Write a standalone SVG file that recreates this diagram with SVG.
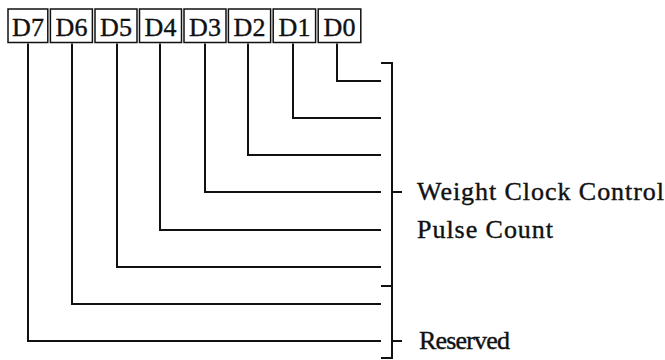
<svg xmlns="http://www.w3.org/2000/svg" width="665" height="360" viewBox="0 0 665 360">
<style>
.box{fill:#fff;stroke:#111;stroke-width:1.5}
.bt{font-size:26px;fill:#111;stroke:#111;stroke-width:0.4;text-anchor:middle}
.lbl{font-size:26px;fill:#111;stroke:#111;stroke-width:0.4}
.ln{fill:none;stroke:#111;stroke-width:2}
</style>
<rect width="665" height="360" fill="#fff"/>
<g font-family="Liberation Serif, DejaVu Serif, serif">
<g id="D7"><rect class="box" x="8" y="9" width="39.8" height="33.5"/><text class="bt" x="28" y="35.5">D7</text></g>
<g id="D6"><rect class="box" x="50.4" y="9" width="42" height="33.5"/><text class="bt" x="71.5" y="35.5">D6</text></g>
<g id="D5"><rect class="box" x="95" y="9" width="42" height="33.5"/><text class="bt" x="116" y="35.5">D5</text></g>
<g id="D4"><rect class="box" x="139.5" y="9" width="42" height="33.5"/><text class="bt" x="160.5" y="35.5">D4</text></g>
<g id="D3"><rect class="box" x="184" y="9" width="42" height="33.5"/><text class="bt" x="205" y="35.5">D3</text></g>
<g id="D2"><rect class="box" x="228.4" y="9" width="42.2" height="33.5"/><text class="bt" x="249.5" y="35.5">D2</text></g>
<g id="D1"><rect class="box" x="273.2" y="9" width="42.4" height="33.5"/><text class="bt" x="294.5" y="35.5">D1</text></g>
<g id="D0"><rect class="box" x="318.2" y="9" width="42.6" height="33.5"/><text class="bt" x="339.5" y="35.5">D0</text></g>
<g id="connectors">
<path class="ln" d="M28 43.5V341H381"/>
<path class="ln" d="M72 43.5V304H381"/>
<path class="ln" d="M117 43.5V267H381"/>
<path class="ln" d="M160 43.5V230H381"/>
<path class="ln" d="M205 43.5V192H381"/>
<path class="ln" d="M248 43.5V155H381"/>
<path class="ln" d="M293 43.5V118H381"/>
<path class="ln" d="M337 43.5V81H381"/>
<path class="ln" d="M381 63H392V358H381M381 286H392M392 192H402M392 341H402"/>
</g>
<g id="label-weight"><text class="lbl" x="417" y="200" textLength="247" lengthAdjust="spacing">Weight Clock Control</text></g>
<g id="label-pulse"><text class="lbl" x="417" y="238" textLength="136" lengthAdjust="spacing">Pulse Count</text></g>
<g id="label-reserved"><text class="lbl" x="419" y="349" textLength="91" lengthAdjust="spacing">Reserved</text></g>
</g>
</svg>
